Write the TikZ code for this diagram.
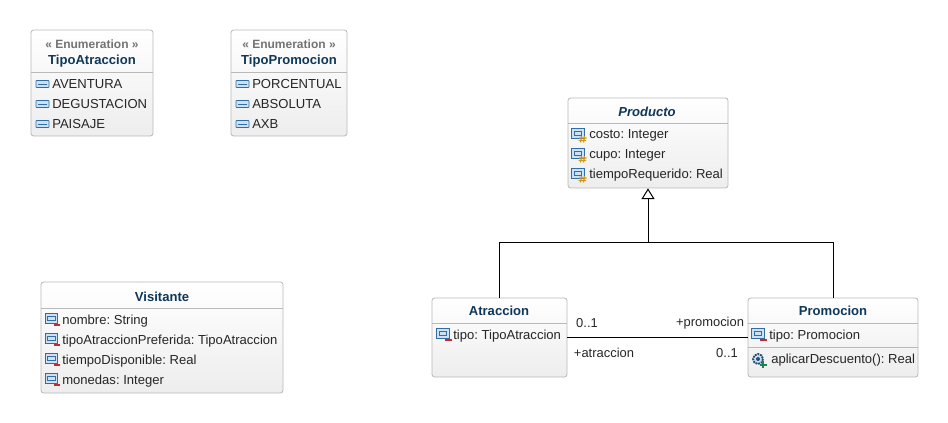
\documentclass[tikz,border=0pt]{standalone}
\usepackage{fontspec}
\setmainfont{Liberation Sans}
\usepackage{tikz}
\usetikzlibrary{arrows.meta,calc}
\frenchspacing
\definecolor{TitleB}{RGB}{15,55,90}
\definecolor{StereoG}{RGB}{115,115,115}
\definecolor{EdgeG}{RGB}{185,185,185}
\definecolor{IconB}{RGB}{50,110,165}
\definecolor{IconFill}{RGB}{205,225,240}
\definecolor{MinusR}{RGB}{200,40,50}
\definecolor{HashO}{RGB}{215,150,20}
\definecolor{PlusG}{RGB}{30,130,80}
\tikzset{
  classbox/.style={draw=EdgeG,rounded corners=2pt,top color=white,bottom color=black!7,line width=0.6pt,inner sep=0pt},
  titletext/.style={font=\bfseries\fontsize{9.8}{11}\selectfont,text=TitleB,inner sep=0pt},
  stereotext/.style={font=\bfseries\fontsize{9}{10}\selectfont,text=StereoG,inner sep=0pt},
  membertext/.style={font=\fontsize{9.8}{11}\selectfont,text=black!85,anchor=west,inner sep=0pt},
  endtext/.style={font=\fontsize{9.7}{11}\selectfont,text=black!85,inner sep=0pt},
  seprule/.style={draw=EdgeG,line width=0.6pt},
  umlline/.style={draw=black,line width=0.75pt}
}
% icons, placed by their centre
\newcommand{\LitIcon}[1]{
  \draw[IconB,fill=IconFill,rounded corners=0.5pt,line width=0.6pt] ($(#1)+(-6.5,-3.5)$) rectangle ($(#1)+(6.5,3.5)$);
  \draw[IconB,line width=0.7pt] ($(#1)+(-4.5,0)$)--($(#1)+(4.5,0)$);
}
\newcommand{\AttrIcon}[2]{
  \draw[IconB,fill=IconFill,line width=0.6pt] ($(#1)+(-6.5,-5.5)$) rectangle ($(#1)+(6,4)$);
  \draw[IconB,line width=0.6pt] ($(#1)+(-4,-3)$) rectangle ($(#1)+(3.5,1.5)$);
  \draw[#2,line width=1.7pt] ($(#1)+(2,6)$)--($(#1)+(8.5,6)$);
}
\newcommand{\ProtIcon}[1]{
  \draw[IconB,fill=IconFill,line width=0.6pt] ($(#1)+(-6.5,-5.5)$) rectangle ($(#1)+(6,4)$);
  \draw[IconB,line width=0.6pt] ($(#1)+(-4,-3)$) rectangle ($(#1)+(3.5,1.5)$);
  \draw[HashO,line width=0.8pt] ($(#1)+(3.5,2)$)--($(#1)+(2.5,8.5)$) ($(#1)+(6.5,2)$)--($(#1)+(5.5,8.5)$)
    ($(#1)+(1,4)$)--($(#1)+(8.5,4)$) ($(#1)+(0.5,6.5)$)--($(#1)+(8,6.5)$);
}
\newcommand{\OperIcon}[1]{
  \draw[IconB!70!black,fill=IconFill,dashed,dash pattern=on 1.4pt off 0.7pt,line width=1.4pt] (#1) circle (5);
  \fill[IconB!70!black] (#1) circle (2);
  \draw[PlusG,line width=1.6pt] ($(#1)+(1.5,6)$)--($(#1)+(8.5,6)$) ($(#1)+(5,2.5)$)--($(#1)+(5,9.5)$);
}

\begin{document}
\begin{tikzpicture}[x=0.75pt,y=-0.75pt]
  \useasboundingbox (0,0) rectangle (948,423);

  % enumerations
  \draw[classbox] (31,30) rectangle (153,136);
  \path[seprule] (31,72)--(153,72);
  \node[stereotext] at (92,44) {« Enumeration »};
  \node[titletext] at (92,61) {TipoAtraccion};
  \LitIcon{42.5,84}  \node[membertext] at (52,84) {AVENTURA};
  \LitIcon{42.5,104} \node[membertext] at (52,104) {DEGUSTACION};
  \LitIcon{42.5,124} \node[membertext] at (52,124) {PAISAJE};

  \draw[classbox] (231,30) rectangle (347,136);
  \path[seprule] (231,72)--(347,72);
  \node[stereotext] at (289,44) {« Enumeration »};
  \node[titletext] at (289,61) {TipoPromocion};
  \LitIcon{242.5,84}  \node[membertext] at (252,84) {PORCENTUAL};
  \LitIcon{242.5,104} \node[membertext] at (252,104) {ABSOLUTA};
  \LitIcon{242.5,124} \node[membertext] at (252,124) {AXB};

  % classes
  \node[classbox,minimum width=120pt,minimum height=67.5pt] (producto) at (648,143) {};
  \path[seprule] (568,123)--(728,123);
  \node[titletext,font=\bfseries\itshape\fontsize{9.8}{11}\selectfont] at (647,112) {Producto};
  \ProtIcon{578,134} \node[membertext] at (589,135.5) {costo: Integer};
  \ProtIcon{578,154} \node[membertext] at (589,155.5) {cupo: Integer};
  \ProtIcon{578,174} \node[membertext] at (589,175.5) {tiempoRequerido: Real};

  \draw[classbox] (41,282) rectangle (283,393);
  \path[seprule] (41,308)--(283,308);
  \node[titletext] at (162,297) {Visitante};
  \AttrIcon{51.5,319}{MinusR} \node[membertext] at (62,321.5) {nombre: String};
  \AttrIcon{51.5,339}{MinusR} \node[membertext] at (62,341.5) {tipoAtraccionPreferida: TipoAtraccion};
  \AttrIcon{51.5,359}{MinusR} \node[membertext] at (62,361.5) {tiempoDisponible: Real};
  \AttrIcon{51.5,379}{MinusR} \node[membertext] at (62,381.5) {monedas: Integer};

  \node[classbox,minimum width=101.25pt,minimum height=59.25pt] (atraccion) at (499.5,337.5) {};
  \path[seprule] (432,323)--(567,323);
  \node[titletext] at (499,311) {Atraccion};
  \AttrIcon{443,334}{MinusR} \node[membertext] at (453,336) {tipo: TipoAtraccion};

  \node[classbox,minimum width=127.5pt,minimum height=59.25pt] (promocion) at (833,337.5) {};
  \path[seprule] (748,323)--(918,323);
  \path[seprule] (748,347)--(918,347);
  \node[titletext] at (833,311) {Promocion};
  \AttrIcon{758,334}{MinusR} \node[membertext] at (769,336) {tipo: Promocion};
  \OperIcon{758,359} \node[membertext] at (771,360) {aplicarDescuento(): Real};

  % generalization
  \coordinate (joint) at (producto.south |- 0,243);
  \draw[umlline] (atraccion.north) |- (joint);
  \draw[umlline] (promocion.north) |- (joint);
  \draw[umlline,-{Triangle[open,fill=white,width=9.75pt,length=8pt]}] (joint) -- (producto.south);

  % association
  \draw[umlline] (atraccion.east) -- (promocion.west);
  \node[endtext] (cardleft) at (587,323) {0..1};
  \node[endtext] (roleright) at (710,323) {+promocion};
  \node[endtext] (roleleft) at (604,353) {+atraccion};
  \node[endtext] (cardright) at (727,353) {0..1};
\end{tikzpicture}
\end{document}
